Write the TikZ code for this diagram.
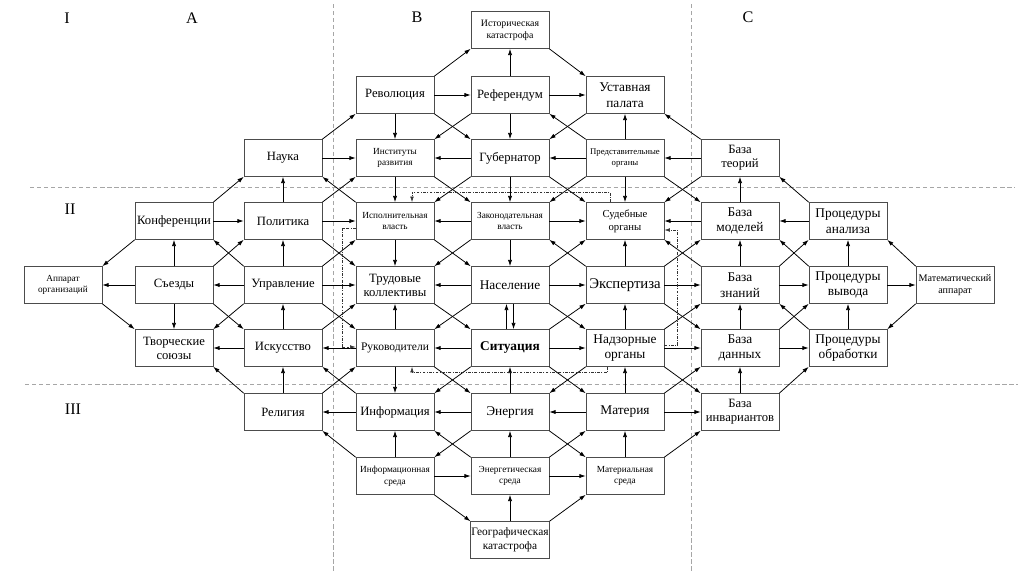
\documentclass[tikz,border=0pt]{standalone}
\usepackage{fontspec}
\setmainfont{Liberation Serif}
\usetikzlibrary{arrows.meta,calc}

\tikzset{
  blk/.style={draw=black!70, minimum width=1.95cm, minimum height=0.925cm, inner sep=0.5pt, align=center, font=\fontsize{9}{10}\selectfont},
  sm/.style={font=\fontsize{6.6}{8.4}\selectfont},
  md/.style={font=\fontsize{9.5}{11}\selectfont},
  arr/.style={-{Latex[length=4.5pt,width=3pt]}, line width=0.55pt},
  sect/.style={gray!70, densely dashed, line width=0.4pt},
  dd/.style={black!80, line width=0.45pt, dash pattern=on 2pt off 1pt on 0.6pt off 1pt, -{Latex[length=4pt,width=2.6pt]}},
  lbl/.style={font=\fontsize{11.5}{13}\selectfont}
}

\begin{document}
\begin{tikzpicture}[x=0.025cm,y=-0.025cm]
\useasboundingbox (0,0) rectangle (1024,572);

\draw[sect] (30,187) -- (1015,187);
\draw[sect] (25,384) -- (1018,384);
\draw[sect] (333,4) -- (333,572);
\draw[sect] (691,4) -- (691,572);

\node[lbl] (lI) at (67,18) {I};
\node[lbl] (lA) at (192,18) {A};
\node[lbl] (lB) at (417,17) {B};
\node[lbl] (lC) at (748,17) {C};
\node[lbl] (lII) at (70,209) {II};
\node[lbl] (lIII) at (73,409) {III};

\node[blk,font=\fontsize{7}{8.6}\selectfont] (a04) at (510,30) {Историческая\\катастрофа};

\node[blk] (a13) at (395,95) {Революция};
\node[blk] (a14) at (510,95) {Референдум};
\node[blk,md] (a15) at (625,95) {Уставная\\палата};

\node[blk] (a22) at (283,158) {Наука};
\node[blk,sm] (a23) at (395,158) {Институты\\развития};
\node[blk] (a24) at (510,158) {Губернатор};
\node[blk,font=\fontsize{6.2}{8.4}\selectfont] (a25) at (625,158) {Представительные\\органы};
\node[blk] (a26) at (740,158) {База\\теорий};

\node[blk] (a31) at (174,221) {Конференции};
\node[blk] (a32) at (283,221) {Политика};
\node[blk,sm] (a33) at (395,221) {Исполнительная\\власть};
\node[blk,sm] (a34) at (510,221) {Законодательная\\власть};
\node[blk,font=\fontsize{7.6}{9}\selectfont] (a35) at (625,221) {Судебные\\органы};
\node[blk,md] (a36) at (740,221) {База\\моделей};
\node[blk,md] (a37) at (848,221) {Процедуры\\анализа};

\node[blk,sm] (a40) at (63,285) {Аппарат\\организаций};
\node[blk] (a41) at (174,285) {Съезды};
\node[blk] (a42) at (283,285) {Управление};
\node[blk] (a43) at (395,285) {Трудовые\\коллективы};
\node[blk,md] (a44) at (510,285) {Население};
\node[blk,font=\fontsize{10.5}{12}\selectfont] (a45) at (625,285) {Экспертиза};
\node[blk,md] (a46) at (740,285) {База\\знаний};
\node[blk,md] (a47) at (848,285) {Процедуры\\вывода};
\node[blk,font=\fontsize{7.2}{8.8}\selectfont] (a48) at (955,285) {Математический\\аппарат};

\node[blk] (a51) at (174,348) {Творческие\\союзы};
\node[blk] (a52) at (283,348) {Искусство};
\node[blk,font=\fontsize{8.2}{10}\selectfont] (a53) at (395,348) {Руководители};
\node[blk,md] (a54) at (510,348) {\bfseries Ситуация};
\node[blk,md] (a55) at (625,348) {Надзорные\\органы};
\node[blk,md] (a56) at (740,348) {База\\данных};
\node[blk,md] (a57) at (848,348) {Процедуры\\обработки};

\node[blk] (a62) at (283,412) {Религия};
\node[blk] (a63) at (395,412) {Информация};
\node[blk,md] (a64) at (510,412) {Энергия};
\node[blk,md] (a65) at (625,412) {Материя};
\node[blk] (a66) at (740,412) {База\\инвариантов};

\node[blk,sm] (a73) at (395,476) {Информационная\\среда};
\node[blk,sm] (a74) at (510,476) {Энергетическая\\среда};
\node[blk,sm] (a75) at (625,476) {Материальная\\среда};

\node[blk,font=\fontsize{8.1}{10}\selectfont] (a84) at (510,540) {Географическая\\катастрофа};

\foreach \a/\b in {a13/a14,a14/a15,a22/a23,a24/a23,a25/a24,a26/a25,
  a31/a32,a32/a33,a34/a33,a34/a35,a36/a35,a37/a36,
  a41/a40,a42/a41,a42/a43,a44/a43,a44/a45,a45/a46,a46/a47,a47/a48,
  a52/a51,a53/a52,a54/a53,a54/a55,a55/a56,a56/a57,
  a63/a62,a64/a63,a65/a64,a65/a66,a73/a74,a74/a75}
  \draw[arr] (\a) -- (\b);

\foreach \a/\b in {a41/a31,a41/a51,a32/a22,a42/a32,a52/a42,a62/a52,
  a13/a23,a23/a33,a33/a43,a53/a43,a53/a63,a73/a63,
  a14/a04,a14/a24,a24/a34,a34/a44,a64/a54,a74/a64,a84/a74,
  a25/a15,a25/a35,a45/a35,a55/a45,a65/a55,a75/a65,
  a36/a26,a46/a36,a56/a46,a66/a56,a47/a37,a57/a47}
  \draw[arr] (\a) -- (\b);

\draw[arr] ([xshift=-2.5pt]a54.north) -- ([xshift=-2.5pt]a44.south);
\draw[arr] ([xshift=2.5pt]a44.south) -- ([xshift=2.5pt]a54.north);

\foreach \a/\b in {a13/a04,a22/a13,a31/a22,a32/a23,a41/a32,a42/a33,a44/a35,
  a45/a36,a46/a37,a52/a43,a54/a45,a55/a46,a56/a47,a62/a53,a65/a56,a66/a57,
  a74/a65,a75/a66,a84/a75}
  \draw[arr] (\a.north east) -- (\b.south west);
\foreach \a/\b in {a04/a15,a13/a24,a23/a34,a24/a35,a25/a36,a32/a43,a33/a44,
  a40/a51,a41/a52,a42/a53,a43/a54,a44/a55,a45/a56,a53/a64,a54/a65,a55/a66,
  a64/a75,a73/a84}
  \draw[arr] (\a.south east) -- (\b.north west);
\foreach \a/\b in {a25/a14,a26/a15,a33/a22,a37/a26,a42/a31,a45/a34,a46/a35,
  a47/a36,a48/a37,a57/a46,a62/a51,a63/a52,a73/a62,a74/a63}
  \draw[arr] (\a.north west) -- (\b.south east);
\foreach \a/\b in {a14/a23,a15/a24,a24/a33,a25/a34,a26/a35,a31/a40,a34/a43,
  a42/a51,a44/a53,a48/a57,a54/a63,a55/a64,a64/a73}
  \draw[arr] (\a.south west) -- (\b.north east);

\draw[dd] ($(a35.north)+(-15,0)$) -- ++(0,-10) -| ($(a33.north)+(17,0)$);
\draw[dd] ($(a33.west)+(0,7)$) -- ++(-13,0) |- ($(a53.west)+(0,-1)$);
\draw[dd] ($(a55.east)+(0,-3)$) -- ++(13,0) |- ($(a35.east)+(0,9)$);
\draw[dd] ($(a55.south)+(-18,0)$) -- ++(0,6) -| ($(a53.south)+(17,0)$);
\end{tikzpicture}
\end{document}
